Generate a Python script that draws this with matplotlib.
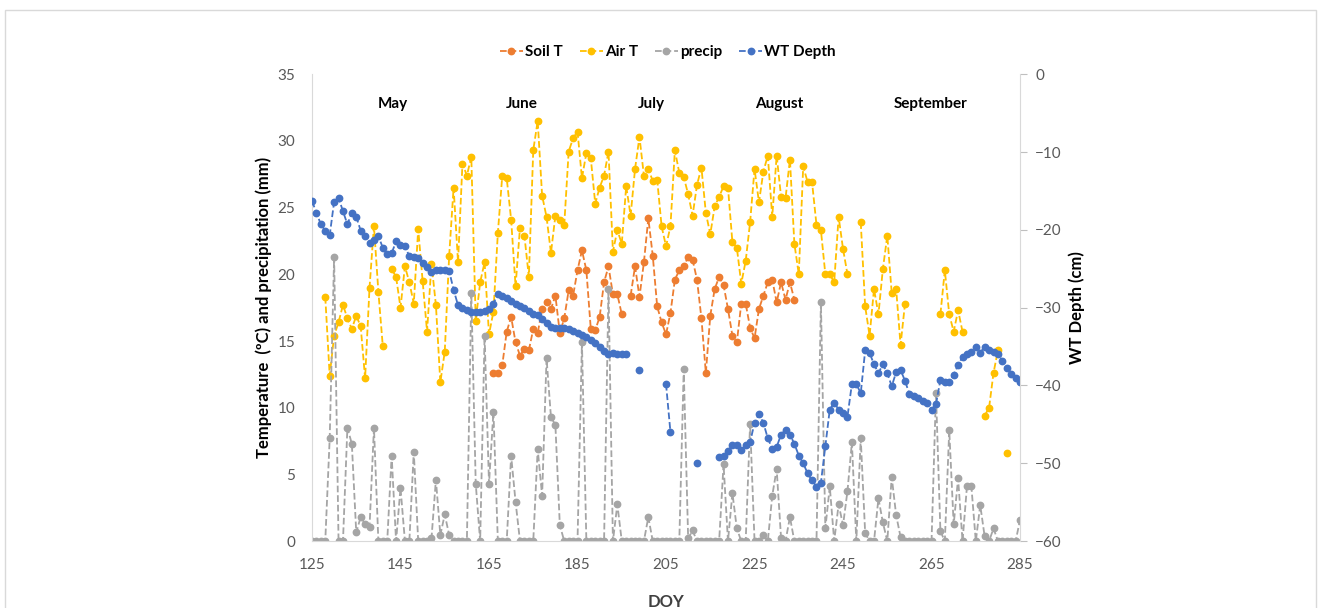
import numpy as np
import matplotlib
matplotlib.use("Agg")
import matplotlib.pyplot as plt
from matplotlib.lines import Line2D
from matplotlib.patches import Rectangle

nan = np.nan
doy = np.arange(125, 286)

# daily precipitation (mm), DOY 125..285
precip = [
    0, 0, 0, 0, 7.7, 21.3, 0, 0, 8.5, 7.3,            # 125
    0.65, 1.8, 1.3, 1.05, 8.5, 0, 0, 0, 6.4, 0,        # 135
    4.0, 0, 0, 6.7, 0, 0, 0, 0.2, 4.6, 0.45,           # 145
    2.0, 0.45, 0, 0, 0, 0, 18.6, 4.3, 0, 15.4,         # 155
    4.3, 9.7, 0, 0, 0, 6.4, 2.95, 0, 0, 0,             # 165
    0, 6.9, 3.4, 13.7, 9.3, 8.7, 1.2, 0, 0, 0,         # 175
    0, 14.9, 0, 0, 0, 0, 0, 18.9, 0, 2.75,             # 185
    0, 0, 0, 0, 0, 0, 1.8, 0, 0, 0,                    # 195
    0, 0, 0, 0, 12.9, 0.2, 0.8, 0, 0, 0,               # 205
    0, 0, 0, 5.75, 0, 3.6, 0.95, 0, 0, 8.8,            # 215
    0, 0, 0.45, 0, 3.4, 5.4, 0.2, 0, 1.8, 0,           # 225
    0, 0, 0, 0, 0, 17.9, 0.95, 4.1, 0, 2.75,           # 235
    1.2, 3.75, 7.4, 0, 7.7, 0.6, 0, 0, 3.2, 1.4,       # 245
    0, 4.8, 1.95, 0.3, 0, 0, 0, 0, 0, 0,               # 255
    0, 11.1, 0.75, 0, 8.3, 1.25, 4.7, 0, 4.1, 4.1,     # 265
    0, 2.7, 0.35, 0, 0.95, 0, 0, 0, 0, 0,              # 275
    1.6,                                               # 285
]

# air temperature (C)
air_t = [
    nan, nan, nan, 18.3, 12.4, 15.4, 16.4, 17.7, 16.7, 15.9,      # 125
    16.9, 16.1, 12.2, 19.0, 23.6, 18.7, 14.6, nan, 20.4, 19.8,    # 135
    17.5, 20.6, 19.4, 17.8, 23.4, 19.5, 15.7, 20.8, 17.7, 11.9,   # 145
    14.2, 21.4, 26.5, 20.9, 28.3, 27.4, 28.8, 16.5, 19.4, 20.9,   # 155
    15.5, 17.2, 23.1, 27.4, 27.2, 24.1, 19.1, 23.5, 22.9, 19.8,   # 165
    29.3, 31.5, 25.9, 24.3, 21.6, 24.4, 24.1, 23.7, 29.2, 30.2,   # 175
    30.7, 27.2, 29.1, 28.7, 25.3, 26.5, 27.4, 29.2, 21.7, 23.3,   # 185
    22.3, 26.6, 24.4, 27.9, 30.3, 27.4, 27.9, 27.0, 27.1, 23.6,   # 195
    22.1, 23.6, 29.3, 27.6, 27.3, 26.0, 24.4, 26.7, 28.0, 24.6,   # 205
    23.0, 25.1, 25.8, 26.6, 26.5, 22.4, 22.0, 19.3, 21.0, 23.9,   # 215
    27.9, 25.4, 27.7, 28.9, 24.3, 28.9, 25.8, 25.7, 28.6, 22.3,   # 225
    20.0, 28.1, 26.9, 26.9, 23.7, 23.3, 20.0, 20.0, 19.4, 24.3,   # 235
    21.9, 20.0, nan, nan, 23.9, 17.6, 15.4, 18.9, 17.0, 20.4,     # 245
    22.9, 18.6, 18.9, 14.7, 17.8, nan, nan, nan, nan, nan,        # 255
    nan, nan, 17.0, 20.3, 17.0, 15.7, 17.3, 15.7, nan, nan,       # 265
    nan, nan, 9.4, 10.0, 12.6, 14.3, nan, 6.6, nan, nan,          # 275
    nan,                                                          # 285
]

# soil temperature (C), only DOY 166..234 recorded
soil_t = [nan] * 41 + [
    12.6, 12.6, 13.2, 15.7, 16.8, 14.9, 13.9, 14.4, 14.3, 15.9,   # 166
    15.6, 17.4, 17.9, 17.4, 18.4, 15.6, 16.7, 18.8, 18.4, 20.3,   # 176
    21.8, 20.3, 15.9, 15.8, 16.8, 19.4, 20.6, 18.5, 18.5, 17.0,   # 186
    nan, 18.4, 20.6, 18.3, 20.9, 24.2, 21.4, 17.6, 16.4, 15.5,    # 196
    17.1, 19.6, 20.3, 20.6, 21.3, 21.1, 19.6, 16.7, 12.6, 16.9,   # 206
    18.9, 19.8, 19.2, 17.4, 15.4, 14.9, 17.8, 17.8, 16.0, 15.2,   # 216
    17.4, 18.4, 19.4, 19.6, 17.9, 19.4, 18.1, 19.4, 18.1,         # 226
] + [nan] * 51

# water table depth (cm)
wt_depth = [
    -16.3, -17.8, -19.3, -20.1, -20.7, -16.4, -15.9, -17.6, -19.3, -17.8,  # 125
    -18.3, -20.1, -20.8, -21.7, -21.3, -20.8, -22.3, -23.1, -23.0, -21.5,  # 135
    -22.0, -22.1, -23.4, -23.5, -23.6, -24.2, -24.8, -25.4, -25.2, -25.1,  # 145
    -25.2, -25.3, -27.7, -29.7, -30.1, -30.3, -30.5, -30.6, -30.5, -30.4,  # 155
    -30.2, -29.5, -28.2, -28.5, -28.8, -29.1, -29.5, -29.8, -30.1, -30.4,  # 165
    -30.8, -31.0, -31.4, -32.0, -32.5, -32.6, -32.6, -32.6, -32.7, -33.0,  # 175
    -33.2, -33.5, -33.8, -34.2, -34.6, -35.1, -35.6, -36.0, -35.8, -35.9,  # 185
    -35.9, -35.9, nan, nan, -38.0, nan, nan, nan, nan, nan,                # 195
    -39.8, -46.0, nan, nan, nan, nan, nan, -50.0, nan, nan,                # 205
    nan, nan, -49.2, -49.1, -48.4, -47.7, -47.7, -48.3, -47.7, -47.3,      # 215
    -44.8, -43.7, -44.8, -46.8, -48.1, -47.9, -46.3, -45.7, -46.3, -47.5,  # 225
    -49.0, -50.0, -51.3, -52.2, -53.0, -52.5, -47.8, -43.1, -42.2, -43.1,  # 235
    -43.5, -44.0, -39.8, -39.8, -41.0, -35.5, -35.8, -37.3, -38.4, -37.3,  # 245
    -38.4, -40.1, -38.3, -38.0, -39.4, -41.1, -41.4, -41.6, -42.0, -42.3,  # 255
    -43.1, -42.4, -39.3, -39.5, -39.5, -38.6, -37.4, -36.3, -35.9, -35.7,  # 265
    -35.0, -35.8, -35.0, -35.5, -35.7, -35.9, -36.8, -37.8, -38.5, -39.1,  # 275
    -39.5,                                                                 # 285
]

months = ["May", "June", "July", "August", "September"]
month_x = [143.3, 172.5, 201.6, 230.5, 264.7]

assert len(precip) == len(air_t) == len(soil_t) == len(wt_depth) == len(doy)

plt.rcParams['font.family'] = ['Lato', 'DejaVu Sans']

c_soil = "#ED7D31"
c_air = "#FFC000"
c_prec = "#A5A5A5"
c_wt = "#4472C4"
grid_c = "#D9D9D9"
txt_c = "#595959"

fig = plt.figure(figsize=(13.22, 6.08), dpi=100)
ax = fig.add_axes([0.236, 0.110, 0.5356, 0.768])

style = dict(linestyle="--", marker="o", markersize=4.6, linewidth=1.3)
ax.plot(doy, soil_t, color=c_soil, **style)
ax.plot(doy, air_t, color=c_air, **style)
ax.plot(doy, precip, color=c_prec, **style)

ax.set_xlim(125, 285)
ax.set_ylim(0, 35)
ax.set_xticks(np.arange(125, 286, 20))
ax.set_yticks(np.arange(0, 36, 5))
ax.tick_params(axis="both", length=0, labelsize=11, colors=txt_c)
ax.tick_params(axis="x", pad=12)
ax.tick_params(axis="y", pad=12)
for s in ["top", "right"]:
    ax.spines[s].set_visible(False)
ax.spines["left"].set_color(grid_c)
ax.spines["bottom"].set_color(grid_c)

ax.set_ylabel("Temperature  (ºC) and precipitation (mm)", fontsize=12,
              fontweight="bold", labelpad=4)
ax.set_xlabel("DOY", fontsize=12, fontweight="bold", labelpad=16, color="#404040")

for m, mx in zip(months, month_x):
    ax.text(mx, 32.8, m, ha="center", va="center", fontsize=11, fontweight="bold")

ax2 = ax.twinx()
ax2.plot(doy, wt_depth, color=c_wt, **style)
ax2.set_ylim(-60, 0)
ax2.set_yticks(np.arange(-60, 1, 10))
ax2.tick_params(axis="y", length=5, color="#BFBFBF", labelsize=11,
                labelcolor=txt_c, pad=6)
for s in ["top", "left", "bottom"]:
    ax2.spines[s].set_visible(False)
ax2.spines["right"].set_color(grid_c)
ax2.set_ylabel("WT Depth (cm)", fontsize=12, fontweight="bold", labelpad=5)

handles = [Line2D([], [], color=c, **style) for c in [c_soil, c_air, c_prec, c_wt]]
fig.legend(handles, ["Soil T", "Air T", "precip", "WT Depth"], ncol=4,
           loc="center", bbox_to_anchor=(668 / 1322, 1 - 52 / 608), frameon=False,
           prop={"weight": "bold", "size": 11}, handlelength=1.5,
           handletextpad=0.15, columnspacing=1.1)

fig.patches.append(Rectangle((0.004, -0.02), 0.9915, 1.0035, transform=fig.transFigure,
                             fill=False, edgecolor=grid_c, linewidth=1))

fig.savefig("out.png", dpi=100)
